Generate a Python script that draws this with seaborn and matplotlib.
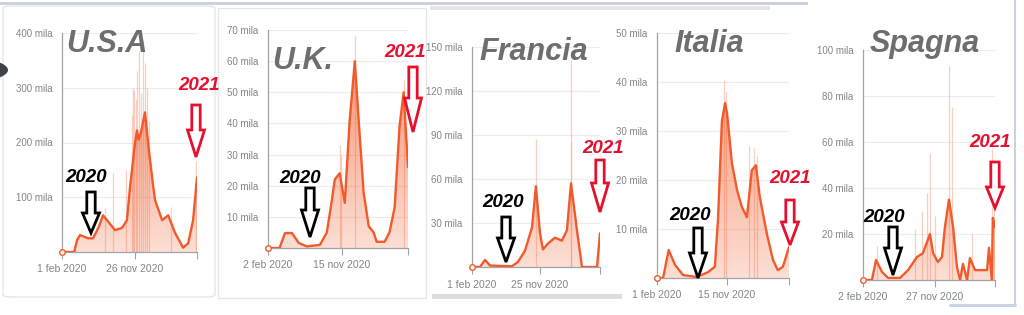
import numpy as np
import pandas as pd
import matplotlib
matplotlib.use("Agg")
import matplotlib.pyplot as plt
import seaborn as sns
from matplotlib.patches import Polygon, FancyBboxPatch, Circle, Rectangle
from matplotlib.colors import to_rgb

# ---------------- DATA (nuovi casi giornalieri, media 7 gg) ----------------
usa_giorni = [0, 50, 62, 74, 107, 127, 150, 168, 190, 217, 246, 266, 279, 291, 298, 307, 314, 322, 333, 340, 348, 356, 363, 372, 381, 410, 435, 463, 496, 517, 537, 553]
usa_casi = [0, 0, 22000, 31000, 25000, 25000, 45000, 67000, 55000, 40000, 44000, 58000, 120000, 167000, 195000, 222000, 205000, 215000, 240000, 255000, 220000, 185000, 160000, 125000, 95000, 58000, 67000, 35000, 8000, 16000, 58000, 136000]
usa_picchi_giorni = [175, 209, 262, 285, 290, 296, 303, 309, 316, 322, 332, 340, 348, 356, 445, 550]
usa_picchi = [80000, 145000, 150000, 250000, 300000, 295000, 280000, 330000, 367000, 290000, 385000, 345000, 300000, 240000, 82000, 167000]

uk_giorni = [0, 45, 66, 93, 120, 151, 202, 229, 248, 260, 279, 299, 318, 338, 353, 372, 392, 411, 423, 454, 473, 493, 512, 528, 545]
uk_casi = [0, 0, 4800, 4800, 1600, 500, 1000, 5000, 15000, 22000, 24000, 14500, 41000, 60000, 41000, 18000, 7000, 5000, 2000, 2000, 5000, 13000, 39000, 50000, 26000]
uk_picchi_giorni = [279, 285, 338, 530]
uk_picchi = [33000, 30000, 68000, 54000]

fra_giorni = [0, 35, 57, 79, 175, 201, 232, 263, 280, 298, 311, 333, 363, 394, 416, 434, 460, 482, 548, 561]
fra_casi = [0, 0, 4800, 1000, 500, 3400, 11000, 27000, 55000, 23000, 12000, 16000, 20000, 18000, 25000, 57000, 25000, 0, 0, 23000]
fra_picchi_giorni = [280, 434, 436]
fra_picchi = [87000, 141000, 85000]

ita_giorni = [0, 25, 48, 74, 107, 164, 210, 238, 251, 267, 280, 288, 308, 329, 349, 370, 390, 407, 423, 452, 477, 497, 518, 543]
ita_casi = [0, 0, 5700, 2700, 600, 200, 1200, 2300, 12000, 32000, 35700, 33700, 23500, 18000, 14500, 12400, 22000, 23000, 16500, 9000, 3700, 1600, 2300, 6300]
ita_picchi_giorni = [275, 283, 380, 400, 410]
ita_picchi = [40400, 38000, 27000, 26500, 25000]

spa_giorni = [0, 37, 54, 79, 104, 154, 187, 224, 249, 278, 291, 311, 328, 340, 357, 374, 390, 403, 415, 432, 444, 465, 486, 515, 523, 535, 539, 548]
spa_casi = [0, 0, 8700, 3500, 900, 900, 4300, 10000, 11700, 20000, 11700, 7800, 10000, 23000, 35000, 23000, 5700, 0, 7000, 0, 9500, 4300, 4300, 4300, 14000, 0, 27000, 23000]
spa_picchi_giorni = [58, 216, 245, 265, 278, 299, 357, 369, 452, 535, 544]
spa_picchi = [15000, 22000, 30000, 38000, 55000, 28000, 93000, 75000, 20000, 57000, 52000]

paesi = ["U.S.A", "U.K.", "Francia", "Italia", "Spagna"]
date_inizio = ["2020-02-01", "2020-02-02", "2020-02-01", "2020-02-01", "2020-02-02"]
date_medie = ["2020-11-26", "2020-11-15", "2020-11-25", "2020-11-15", "2020-11-27"]
etichette_inizio = ["1 feb 2020", "2 feb 2020", "1 feb 2020", "1 feb 2020", "2 feb 2020"]
etichette_medie = ["26 nov 2020", "15 nov 2020", "25 nov 2020", "15 nov 2020", "27 nov 2020"]
y_massimi = [400000, 70000, 150000, 50000, 100000]
y_tacche = [[100000, 200000, 300000, 400000],
            [10000, 20000, 30000, 40000, 50000, 60000, 70000],
            [30000, 60000, 90000, 120000, 150000],
            [10000, 20000, 30000, 40000, 50000],
            [20000, 40000, 60000, 80000, 100000]]
y_etichette = [["100 mila", "200 mila", "300 mila", "400 mila"],
               ["10 mila", "20 mila", "30 mila", "40 mila", "50 mila", "60 mila", "70 mila"],
               ["30 mila", "60 mila", "90 mila", "120 mila", "150 mila"],
               ["10 mila", "20 mila", "30 mila", "40 mila", "50 mila"],
               ["20 mila", "40 mila", "60 mila", "80 mila", "100 mila"]]
serie = [(usa_giorni, usa_casi, usa_picchi_giorni, usa_picchi),
         (uk_giorni, uk_casi, uk_picchi_giorni, uk_picchi),
         (fra_giorni, fra_casi, fra_picchi_giorni, fra_picchi),
         (ita_giorni, ita_casi, ita_picchi_giorni, ita_picchi),
         (spa_giorni, spa_casi, spa_picchi_giorni, spa_picchi)]

# ---------------- LAYOUT (pixel: left, right, top, bottom of plot area) ----------------
layout = [(62, 197, 33, 252), (268, 408, 30, 248), (472, 600, 47, 267),
          (657, 789, 33, 278), (863, 995, 50, 280)]
titoli_pos = [(107, 52), (303, 69), (534, 60), (709, 52), (925, 52)]
# (text cx, text baseline, arrow cx, arrow top, head start, tip)
frecce_2020 = [(86, 182, 91, 192, 213, 233), (300, 183, 310, 188, 210, 237),
               (503, 207, 506, 217, 238, 262), (690, 220, 698, 228, 253, 278),
               (884, 222, 893, 227, 248, 275)]
frecce_2021 = [(199, 90, 196, 105, 130, 157), (405, 57, 413, 67, 98, 132),
               (603, 153, 600, 160, 183, 212), (790, 183, 790, 200, 222, 245),
               (990, 147, 995, 162, 187, 208)]

COL_LINE = "#F25A2C"
COL_FILL = "#F36A3C"
COL_BAR = "#F7A184"
COL_AXIS = "#a0a4a8"
COL_TXT = "#80868b"
ROSSO = "#E5102E"

sns.set_theme(style="white")
FAM = ['Liberation Sans', 'DejaVu Sans']
plt.rcParams['font.family'] = FAM

W, H = 1024, 315
fig = plt.figure(figsize=(W / 100, H / 100), dpi=100)
fig.patch.set_facecolor('white')


def fx(x):
    return x / W


def fy(y):
    return 1 - y / H


# ---------- background cards / screenshot edges ----------
fig.add_artist(Rectangle((0, fy(5)), fx(808), 3 / H, transform=fig.transFigure,
                         facecolor='#c9d1e2', edgecolor='none', zorder=-6))
fig.add_artist(FancyBboxPatch((fx(3), fy(297)), fx(212), (297 - 6) / H,
                              boxstyle="round,pad=0,rounding_size=0.008",
                              transform=fig.transFigure, facecolor='white',
                              edgecolor='#e3e4e7', lw=0.9, zorder=-5))
fig.add_artist(Rectangle((fx(218), fy(298)), fx(208), (298 - 8) / H, transform=fig.transFigure,
                         facecolor='white', edgecolor='#e6e7ea', lw=0.9, zorder=-5))
fig.add_artist(Rectangle((fx(430), fy(10)), fx(340), 4 / H, transform=fig.transFigure,
                         facecolor='#e6e6e6', edgecolor='none', zorder=-5))
fig.add_artist(Rectangle((fx(432), fy(299)), fx(190), 5 / H, transform=fig.transFigure,
                         facecolor='#dedede', edgecolor='none', zorder=-5))
fig.add_artist(plt.Line2D([fx(1015), fx(1015)], [fy(0), fy(305)], transform=fig.transFigure,
                          color='#c9d1e2', lw=1.5, zorder=-5))
fig.add_artist(plt.Line2D([fx(950), fx(1015)], [fy(305), fy(305)], transform=fig.transFigure,
                          color='#c9d1e2', lw=2, zorder=-5))
fig.add_artist(Circle((fx(-32), fy(70)), 40 / W, transform=fig.transFigure,
                      facecolor='#3d4246', edgecolor='none', zorder=-4))

# ---------- panels ----------
for i, (giorni, casi, pg, pv) in enumerate(serie):
    L, R, T, B = layout[i]
    ax = fig.add_axes([fx(L), fy(B), (R - L) / W, (B - T) / H])
    ax.patch.set_alpha(0)
    fine = giorni[-1]
    ymax = y_massimi[i]
    df = pd.DataFrame({'giorno': giorni, 'casi': casi})

    # light daily spikes
    ax.vlines(pg, 0, pv, color=COL_BAR, lw=0.9, alpha=0.5, zorder=1)

    # gradient fill under the curve
    coll = ax.fill_between(giorni, casi, 0, facecolor='none', lw=0)
    path = coll.get_paths()[0]
    grad = np.zeros((256, 1, 4))
    grad[..., :3] = to_rgb(COL_FILL)
    grad[:, 0, 3] = np.linspace(0.22, 0.8, 256)
    im = ax.imshow(grad, extent=[0, fine, 0, ymax], origin='lower', aspect='auto',
                   zorder=2, interpolation='bilinear')
    im.set_clip_path(path, transform=ax.transData)

    sns.lineplot(data=df, x='giorno', y='casi', ax=ax, color=COL_LINE, lw=1.7, zorder=3)
    ax.plot(giorni[0], casi[0], 'o', mfc='white', mec=COL_LINE, ms=4, mew=1,
            zorder=4, clip_on=False)

    ax.set_xlim(0, fine)
    ax.set_ylim(0, ymax)
    ax.set_xlabel('')
    ax.set_ylabel('')

    ax.set_yticks(y_tacche[i])
    ax.set_yticklabels(y_etichette[i])
    ax.yaxis.grid(True, color='#ececec', lw=0.8)
    ax.set_axisbelow(True)
    ax.tick_params(axis='y', length=0, pad=7, labelsize=7, labelcolor=COL_TXT)

    mid = (pd.Timestamp(date_medie[i]) - pd.Timestamp(date_inizio[i])).days
    ax.set_xticks([0, mid, fine])
    ax.set_xticklabels([etichette_inizio[i], etichette_medie[i], ''])
    ax.tick_params(axis='x', length=5, width=0.8, color=COL_AXIS, pad=4,
                   labelsize=7.5, labelcolor=COL_TXT, bottom=True)
    for s in ['top', 'right']:
        ax.spines[s].set_visible(False)
    for s in ['left', 'bottom']:
        ax.spines[s].set_color(COL_AXIS)
        ax.spines[s].set_linewidth(0.9)

    # title
    tx, ty = titoli_pos[i]
    fig.text(fx(tx), fy(ty), paesi[i], ha='center', va='baseline', fontsize=22,
             fontweight='bold', style='italic', color='#6e6e70', family=FAM, zorder=10)


def freccia(cx, y0, yh, y1, col, sw=4.2, hw=8.5):
    pts = [(cx - sw, y0), (cx + sw, y0), (cx + sw, yh), (cx + hw, yh), (cx, y1),
           (cx - hw, yh), (cx - sw, yh)]
    pts = [(fx(a), fy(b)) for a, b in pts]
    fig.add_artist(Polygon(pts, closed=True, transform=fig.transFigure, facecolor='white',
                           edgecolor=col, lw=2.0, joinstyle='miter', zorder=11))


for (tcx, tby, acx, y0, yh, y1) in frecce_2020:
    fig.text(fx(tcx), fy(tby), "2020", ha='center', va='baseline', fontsize=13.5,
             fontweight='bold', style='italic', color='black', family=FAM, zorder=12)
    freccia(acx, y0, yh, y1, 'black')
for (tcx, tby, acx, y0, yh, y1) in frecce_2021:
    fig.text(fx(tcx), fy(tby), "2021", ha='center', va='baseline', fontsize=13.5,
             fontweight='bold', style='italic', color=ROSSO, family=FAM, zorder=12)
    freccia(acx, y0, yh, y1, ROSSO)

fig.savefig("out.png", dpi=100)
